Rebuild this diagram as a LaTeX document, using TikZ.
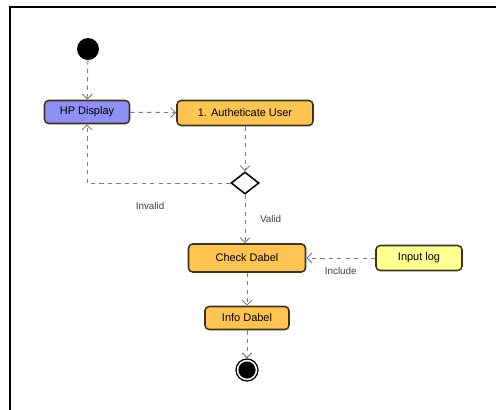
\documentclass[tikz,border=0pt]{standalone}
\usepackage{fontspec}
\setmainfont{Liberation Sans}
\usepackage{tikz}
\usetikzlibrary{arrows.meta}
\usetikzlibrary{shapes.geometric}
\definecolor{hpblue}{RGB}{143,143,245}
\definecolor{actorange}{RGB}{255,196,82}
\definecolor{logyellow}{RGB}{255,255,145}
\definecolor{boxline}{RGB}{60,52,30}
\definecolor{flowgrey}{RGB}{125,125,125}
\tikzset{l/.style={font=\fontsize{7.8}{7.8}\selectfont}}
\tikzset{m/.style={font=\fontsize{7}{7}\selectfont, text=black!75}}
\tikzset{act/.style={l, draw=boxline, line width=1.1pt, rounded corners=3pt, inner sep=0pt}}
\tikzset{flow/.style={draw=flowgrey, dashed, line width=0.7pt, -{Straight Barb[length=3.5pt,width=7pt]}}}

\begin{document}
\begin{tikzpicture}[x=0.025cm, y=-0.025cm]
        \useasboundingbox (0,0) rectangle (496,410);
        \draw [line width=1.5pt] (10,410) -- (10,7) -- (496,7);
        \node (S) at (88,49) [circle, fill=black, minimum size=0.55cm, inner sep=0pt] {};
        \node (HP) at (87,112) [act, fill=hpblue, minimum width=2.125cm, minimum height=0.575cm] {HP Display};
        \node (AU) at (245,113) [act, fill=actorange, minimum width=3.4cm, minimum height=0.625cm] {1. Autheticate User};
        \node (D) at (245,183) [diamond, draw, line width=1.1pt, minimum width=0.7cm, minimum height=0.55cm, inner sep=0pt] {};
        \node (CD) at (247,258) [act, fill=actorange, minimum width=2.925cm, minimum height=0.7cm] {Check Dabel};
        \node (IL) at (419,258) [act, fill=logyellow, minimum width=2.15cm, minimum height=0.625cm] {Input log};
        \node (ID) at (247,318) [act, fill=actorange, minimum width=2.1cm, minimum height=0.575cm] {Info Dabel};
        \node (F) at (247,370) [circle, draw, line width=0.9pt, fill=white, minimum size=0.55cm, inner sep=0pt] {};
        \fill (F.center) circle (0.215cm);
        \draw [flow] (S) -- (HP);
        \draw [flow] (HP) -- (AU);
        \draw [flow] (AU.south -| D) -- (D);
        \draw [flow] (D.west) -| node [m, pos=0.28, below=10pt] {Invalid} (HP.south);
        \draw [flow] (D.south) -- node [m, right=7pt] {Valid} (D.south |- CD.north);
        \draw [flow, -{Straight Barb[length=3.5pt,width=7pt,color=blue!60]}] (IL) -- node [m, below=3pt] {Include} (CD);
        \draw [flow] (CD) -- (ID);
        \draw [flow] (ID) -- (F);
\end{tikzpicture}
\end{document}
